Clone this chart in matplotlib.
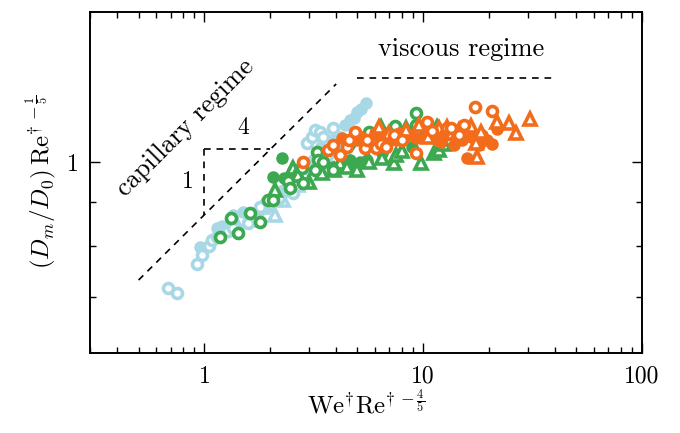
import numpy as np
import matplotlib
matplotlib.use("Agg")
import matplotlib.pyplot as plt
from matplotlib.ticker import NullFormatter, FixedLocator, FixedFormatter

plt.rcParams["font.family"] = "serif"
plt.rcParams["font.serif"] = ["cmr10"]
plt.rcParams["mathtext.fontset"] = "cm"
plt.rcParams["axes.unicode_minus"] = False
plt.rcParams["axes.formatter.use_mathtext"] = True

LIGHTBLUE = "#a8d8e6"
GREEN = "#3ca850"
ORANGE = "#f26c1c"

# light blue set
lb_fill_x = [0.959, 1.146, 1.2, 1.355, 1.504, 1.6, 1.75, 1.954, 2.29, 2.5, 2.67, 2.9, 3.13,
             3.4, 3.66, 3.86, 4.15, 4.38, 4.61, 4.8, 4.96, 5.2, 5.5]
lb_fill_y = [0.798, 0.839, 0.845, 0.869, 0.876, 0.870, 0.875, 0.888, 0.928, 0.950, 0.966, 0.980, 1.005,
             1.040, 1.032, 1.060, 1.069, 1.103, 1.118, 1.125, 1.142, 1.150, 1.169]
lb_open_x = [0.679, 0.746, 0.929, 0.979, 1.05, 1.087, 1.146, 1.285, 1.35, 1.585, 1.797, 2.0, 2.2,
             2.54, 2.94, 3.1, 3.2, 3.37, 3.48, 3.86, 4.0]
lb_open_y = [0.716, 0.707, 0.763, 0.782, 0.800, 0.813, 0.820, 0.833, 0.840, 0.851, 0.888, 0.900, 0.910,
             0.921, 1.052, 1.070, 1.090, 1.083, 1.069, 1.094, 1.040]
lb_tri_x = [1.4, 1.618, 1.835, 2.1, 2.29, 2.4, 2.67, 2.88, 3.30, 3.6, 3.94, 4.5]
lb_tri_y = [0.850, 0.858, 0.888, 0.870, 0.904, 0.930, 0.941, 0.966, 0.992, 1.000, 1.011, 1.020]

# green set
g_fill_x = [2.06, 2.26, 2.3, 3.86, 4.38, 4.61, 4.9, 5.12, 5.56, 6.51, 8.91]
g_fill_y = [0.961, 1.011, 0.960, 0.987, 0.992, 1.005, 0.990, 1.000, 1.005, 1.024, 1.041]
g_open_x = [1.182, 1.327, 1.428, 1.618, 1.797, 1.954, 2.06, 2.41, 2.46, 2.8, 2.82,
            3.20, 3.26, 3.30, 3.5, 3.86, 4.6, 5.68, 5.8, 7.23, 7.4, 9.29, 9.29, 9.3]
g_open_y = [0.820, 0.862, 0.828, 0.873, 0.853, 0.904, 0.904, 0.951, 0.933, 0.985, 0.946,
            0.979, 1.027, 1.005, 1.000, 0.979, 1.050, 1.083, 1.060, 1.089, 1.100, 1.139, 1.103, 1.080]
g_tri_x = [2.10, 2.51, 2.54, 2.65, 2.67, 3.0, 3.44, 3.9, 4.15, 4.47, 5.0, 5.68, 6.44, 6.5,
           7.38, 7.54, 8.0, 8.37, 9.79, 11.2, 11.6, 11.8, 12.5]
g_tri_y = [0.928, 0.979, 0.984, 0.971, 0.966, 0.950, 0.971, 0.980, 0.997, 0.987, 0.980, 1.000, 1.097, 1.010,
           0.997, 1.019, 1.030, 1.094, 0.997, 1.024, 1.097, 1.032, 1.050]

# orange set
o_fill_x = [4.24, 4.96, 5.2, 5.68, 6.0, 6.31, 7.0, 7.54, 7.78, 8.2, 8.64, 9.29, 10.3, 10.8,
            11.5, 12.0, 12.7, 13.8, 14.1, 15.0, 15.8, 16.5, 18.0, 18.5, 19.5, 20.6, 21.7]
o_fill_y = [1.066, 1.060, 1.070, 1.046, 1.080, 1.069, 1.060, 1.060, 1.080, 1.065, 1.074, 1.066, 1.069, 1.080,
            1.060, 1.055, 1.074, 1.046, 1.083, 1.060, 1.011, 1.070, 1.046, 1.074, 1.060, 1.049, 1.091]
o_open_x = [2.82, 3.66, 3.86, 4.15, 4.47, 4.6, 4.86, 5.39, 5.56, 6.11, 6.4, 6.79, 7.38, 8.0,
            9.29, 10.4, 11.0, 12.9, 13.4, 14.5, 15.4, 17.2, 20.6]
o_open_y = [1.000, 1.032, 1.046, 1.019, 1.041, 1.060, 1.083, 1.038, 1.060, 1.038, 1.050, 1.041, 1.074, 1.060,
            1.024, 1.112, 1.085, 1.094, 1.094, 1.075, 1.103, 1.157, 1.145]
o_tri_x = [6.31, 7.0, 8.37, 9.59, 10.5, 11.8, 12.9, 13.5, 14.6, 16.5, 17.4, 17.6, 18.4,
           21.7, 24.6, 26.5, 30.6]
o_tri_y = [1.097, 1.080, 1.089, 1.103, 1.070, 1.094, 1.097, 1.080, 1.089, 1.100, 1.052, 1.013, 1.083,
           1.112, 1.109, 1.080, 1.121]

# scaling guides
cap_pref = 0.87
cap_x = [0.5, 4.0]
visc_level = 1.25
visc_x = [5.0, 40.0]
tri_x = [1.0, 2.0]

fig = plt.figure(figsize=(6.8, 4.33), dpi=100)
ax = fig.add_axes([0.1324, 0.1848, 0.8118, 0.7875])
ax.set_xscale("log")
ax.set_yscale("log")

dash = (0, (4, 3.5))
cx = np.array(cap_x)
ax.plot(cx, cap_pref * cx ** 0.25, ls=dash, color="k", lw=1.2)
ax.plot(visc_x, [visc_level, visc_level], ls=dash, color="k", lw=1.2)
top = cap_pref * tri_x[1] ** 0.25
ax.plot([tri_x[0], tri_x[1]], [top, top], ls=dash, color="k", lw=1.2)
ax.plot([tri_x[0], tri_x[0]], [top, cap_pref], ls=dash, color="k", lw=1.2)

filled = dict(ls="none", marker="o", ms=9, mew=0)
ring = dict(ls="none", marker="o", ms=7.2, mew=2.6, mfc="white")
tri = dict(ls="none", marker="^", ms=8.5, mew=2.6, mfc="white")

for fx, fy, ox, oy, tx, ty, col in [
    (lb_fill_x, lb_fill_y, lb_open_x, lb_open_y, lb_tri_x, lb_tri_y, LIGHTBLUE),
    (g_fill_x, g_fill_y, g_open_x, g_open_y, g_tri_x, g_tri_y, GREEN),
    (o_fill_x, o_fill_y, o_open_x, o_open_y, o_tri_x, o_tri_y, ORANGE),
]:
    ax.plot(fx, fy, color=col, **filled)
    ax.plot(tx, ty, color=col, mec=col, **tri)
    ax.plot(ox, oy, color=col, mec=col, **ring)

ax.text(1.50, 1.094, "4", fontsize=17, ha="center", va="center")
ax.text(0.837, 0.948, "1", fontsize=17, ha="center", va="center")
ax.text(0.82, 1.097, "capillary regime", fontsize=19, rotation=45,
        ha="center", va="center", rotation_mode="anchor")
ax.text(14.9, 1.35, "viscous regime", fontsize=19, ha="center", va="center")

ax.set_xlim(0.3, 100)
ax.set_ylim(0.603, 1.489)
ax.xaxis.set_major_locator(FixedLocator([1, 10, 100]))
ax.xaxis.set_major_formatter(FixedFormatter(["1", "10", "100"]))
ax.xaxis.set_minor_formatter(NullFormatter())
ax.yaxis.set_major_locator(FixedLocator([1]))
ax.yaxis.set_major_formatter(FixedFormatter(["1"]))
ax.yaxis.set_minor_formatter(NullFormatter())

ax.tick_params(which="both", direction="in", top=True, right=True, width=1.0)
ax.tick_params(which="major", length=7, labelsize=17, pad=8)
ax.tick_params(which="minor", length=4)
ax.tick_params(axis="x", which="major", pad=9)
for s in ax.spines.values():
    s.set_linewidth(1.4)

ax.set_xlabel(r"$\mathrm{We}^{\dagger}\mathrm{Re}^{\dagger\,-\frac{4}{5}}$", fontsize=18, labelpad=1)
ax.set_ylabel(r"$(D_m/D_0)\,\mathrm{Re}^{\dagger\,-\frac{1}{5}}$", fontsize=18, labelpad=6)

fig.savefig("out.png", dpi=100)
